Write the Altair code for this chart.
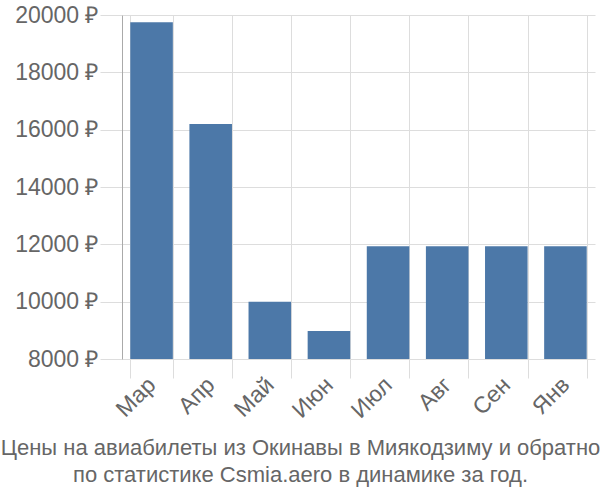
import altair as alt
import pandas as pd

months = ["Мар", "Апр", "Май", "Июн", "Июл", "Авг", "Сен", "Янв"]
prices = [19750, 16200, 10000, 8980, 11930, 11930, 11930, 11930]

df = pd.DataFrame({"month": months, "price": prices})

chart = alt.Chart(df).mark_bar(color="#4c78a8", clip=True).encode(
    x=alt.X("month:N", sort=months, title=None,
            scale=alt.Scale(paddingInner=0.28, paddingOuter=0.14),
            axis=alt.Axis(labelAngle=-45, labelFontSize=23, labelColor="#666",
                          labelFont="Liberation Sans", labelAlign="right",
                          labelBaseline="middle", labelPadding=3,
                          grid=True, gridColor="#ddd", bandPosition=0,
                          ticks=True, tickSize=19, tickColor="#ddd",
                          tickBand="extent",
                          domain=False)),
    y=alt.Y("price:Q", title=None,
            scale=alt.Scale(domain=[8000, 20000], nice=False, zero=False),
            axis=alt.Axis(values=[8000, 10000, 12000, 14000, 16000, 18000, 20000],
                          labelExpr="datum.value + ' ₽'",
                          labelFontSize=23, labelColor="#666", labelFont="Liberation Sans",
                          gridColor="#ddd", tickColor="#ddd", tickSize=22, labelPadding=2,
                          domain=True, domainColor="#aaa")),
).properties(
    width=473, height=344,
    title=alt.TitleParams(
        text=["Цены на авиабилеты из Окинавы в Миякодзиму и обратно",
              "по статистике Csmia.aero в динамике за год."],
        orient="bottom", anchor="middle", fontSize=22, fontWeight="normal",
        color="#666", font="Liberation Sans", offset=15, lineHeight=27,
        frame="group", dx=-58),
    autosize=alt.AutoSizeParams(type="none"),
    padding={"left": 122, "top": 15, "right": 5, "bottom": 141},
).configure_view(stroke=None)

chart.save("out.html", embed_options={"renderer": "svg", "actions": False})
